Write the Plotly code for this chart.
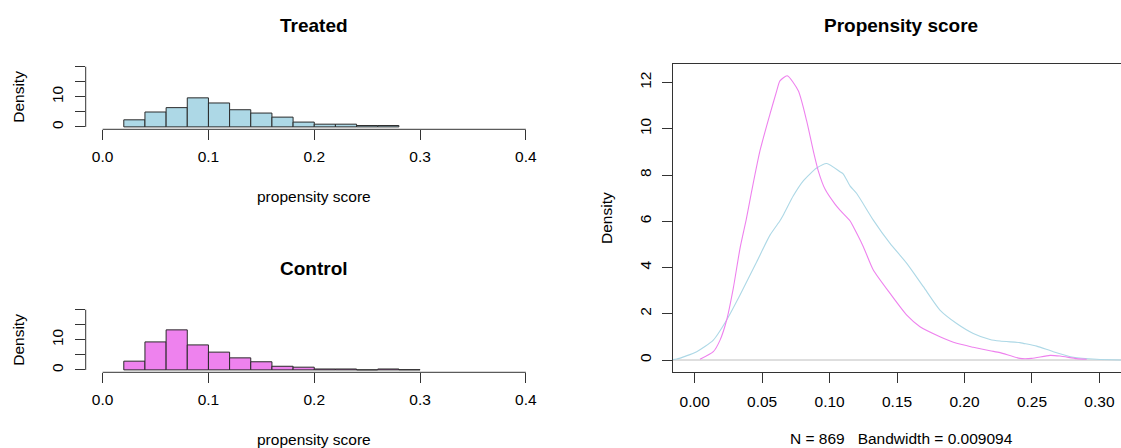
import numpy as np
import plotly.graph_objects as go

# ---------------- data ----------------
bin_edges = [0.02, 0.04, 0.06, 0.08, 0.10, 0.12, 0.14, 0.16, 0.18, 0.20,
             0.22, 0.24, 0.26, 0.28, 0.30]
treated_density = [2.35, 4.95, 6.4, 9.65, 7.95, 5.7, 4.6, 3.25, 1.6, 0.9,
                   0.9, 0.45, 0.45, None]
control_density = [2.9, 9.3, 13.3, 8.3, 5.9, 4.0, 2.7, 1.2, 0.9, 0.3,
                    0.3, 0.0, 0.3, 0.06]

treated_kde_x = [-0.0163, -0.0133, 0.0015, 0.0138, 0.0237, 0.0336, 0.0460,
                 0.0558, 0.0632, 0.0657, 0.0731, 0.0805, 0.0904, 0.0979,
                 0.1077, 0.1102, 0.1151, 0.1201, 0.1324, 0.1448, 0.1572,
                 0.1695, 0.1818, 0.1942, 0.2065, 0.2189, 0.2263, 0.2411,
                 0.2436, 0.2535, 0.2658, 0.2807, 0.2980, 0.3160]
treated_kde_y = [0.02, 0.04, 0.36, 0.86, 1.73, 2.81, 4.25,
                 5.40, 6.02, 6.27, 7.10, 7.75, 8.30, 8.50,
                 8.14, 8.04, 7.53, 7.20, 6.05, 5.04, 4.18,
                 3.17, 2.16, 1.58, 1.15, 0.89, 0.82, 0.75,
                 0.72, 0.60, 0.36, 0.12, 0.03, 0.0]

control_kde_x = [0.0039, 0.0138, 0.0188, 0.0237, 0.0286, 0.0336, 0.0383,
                 0.0423, 0.0484, 0.0558, 0.0608, 0.0632, 0.0686, 0.0768,
                 0.0830, 0.0879, 0.0916, 0.0966, 0.1040, 0.1077, 0.1151,
                 0.1176, 0.1250, 0.1324, 0.1448, 0.1572, 0.1670, 0.1818,
                 0.1942, 0.2065, 0.2189, 0.2263, 0.2411, 0.2498, 0.2634,
                 0.2708, 0.2832, 0.2906]
control_kde_y = [0.03, 0.36, 0.86, 1.73, 3.10, 4.83, 6.10,
                 7.32, 9.05, 10.63, 11.64, 12.07, 12.29, 11.64,
                 10.34, 9.05, 8.18, 7.39, 6.74, 6.48, 6.02,
                 5.76, 4.90, 3.89, 2.88, 1.94, 1.44, 1.01,
                 0.72, 0.55, 0.40, 0.32, 0.07, 0.07, 0.20,
                 0.17, 0.06, 0.03]

hist_xticks = [0.0, 0.1, 0.2, 0.3, 0.4]
hist_yticks = [0, 5, 10, 15, 20]
hist_yticktext = ["0", "", "10", "", ""]
dens_xticks = [0.0, 0.05, 0.10, 0.15, 0.20, 0.25, 0.30]
dens_yticks = [0, 2, 4, 6, 8, 10, 12]

density_xlab = "N = 869\u00a0\u00a0\u00a0Bandwidth = 0.009094"

# ---------------- layout helpers ----------------
W, H = 1121, 448
FONT = "Liberation Sans, Arial, sans-serif"
AX = "#333333"
TXT = "#000000"


def fx(px):
    return px / W


def fy(py):
    return 1 - py / H


centers = (np.array(bin_edges[:-1]) + np.array(bin_edges[1:])) / 2
bw = bin_edges[1] - bin_edges[0]

fig = go.Figure()
fig.add_trace(go.Bar(x=centers, y=treated_density, width=bw,
                     marker=dict(color="#ADD8E6", line=dict(color="#2a2a2a", width=1)),
                     xaxis="x", yaxis="y"))
fig.add_trace(go.Bar(x=centers, y=control_density, width=bw,
                     marker=dict(color="#EE82EE", line=dict(color="#2a2a2a", width=1)),
                     xaxis="x2", yaxis="y2"))
fig.add_trace(go.Scatter(x=treated_kde_x, y=treated_kde_y, mode="lines",
                         line=dict(color="#ADD8E6", width=1.1, shape="spline", smoothing=0.6),
                         xaxis="x3", yaxis="y3"))
fig.add_trace(go.Scatter(x=control_kde_x, y=control_kde_y, mode="lines",
                         line=dict(color="#EE82EE", width=1.1, shape="spline", smoothing=0.6),
                         xaxis="x3", yaxis="y3"))

tickfont = dict(family=FONT, size=15.5, color=TXT)

common = dict(showgrid=False, zeroline=False, ticks="outside", ticklen=9.5,
              tickcolor=AX, tickwidth=1, tickfont=tickfont, fixedrange=True)

hx = dict(range=[-0.016, 0.416], tickvals=hist_xticks,
          ticktext=["%.1f" % v for v in hist_xticks], showline=False,
          ticklabelstandoff=4, **common)
hy = dict(range=[-0.8, 20.8], tickvals=hist_yticks, ticktext=hist_yticktext,
          tickangle=-90, showline=False, ticklabelstandoff=6, **common)

fig.update_layout(
    width=W, height=H, autosize=False,
    margin=dict(l=0, r=0, t=0, b=0, pad=0),
    paper_bgcolor="white", plot_bgcolor="white",
    showlegend=False,
    xaxis=dict(domain=[fx(85.7), fx(542.8)], anchor="y", **hx),
    yaxis=dict(domain=[fy(129.3), fy(64.3)], anchor="x", **hy),
    xaxis2=dict(domain=[fx(85.7), fx(542.8)], anchor="y2", **hx),
    yaxis2=dict(domain=[fy(372.3), fy(307.3)], anchor="x2", **hy),
    xaxis3=dict(domain=[fx(672.7), 1.0], anchor="y3",
                range=[-0.0163, 0.3160], tickvals=dens_xticks,
                ticktext=["%.2f" % v for v in dens_xticks],
                showline=True, linecolor=AX, linewidth=1, mirror=True,
                ticklabelstandoff=6, **common),
    yaxis3=dict(domain=[fy(372.3), fy(64)], anchor="x3",
                range=[-0.532, 12.80], tickvals=dens_yticks,
                ticktext=[str(v) for v in dens_yticks], tickangle=-90,
                showline=True, linecolor=AX, linewidth=1, mirror=False,
                ticklabelstandoff=5, **common),
)

shapes = []
for xa, ya in (("x", "y"), ("x2", "y2")):
    shapes.append(dict(type="line", xref=xa, yref=ya + " domain",
                       x0=hist_xticks[0], x1=hist_xticks[-1], y0=0, y1=0,
                       line=dict(color=AX, width=1)))
    shapes.append(dict(type="line", xref=xa + " domain", yref=ya,
                       x0=0, x1=0, y0=hist_yticks[0], y1=hist_yticks[-1],
                       line=dict(color=AX, width=1)))
shapes.append(dict(type="line", xref="x3 domain", yref="y3", x0=0, x1=1,
                   y0=0, y1=0, line=dict(color="#BEBEBE", width=1), layer="below"))
fig.update_layout(shapes=shapes)

lab = dict(family=FONT, size=15.5, color=TXT)
ttl = dict(family=FONT, size=19, color=TXT)
ann = []


def add(text, px, py, font, angle=0, bold=False):
    ann.append(dict(text=("<b>%s</b>" % text) if bold else text,
                    x=fx(px), y=fy(py), xref="paper", yref="paper",
                    xanchor="center", yanchor="middle", showarrow=False,
                    font=font, textangle=angle))


add("Treated", 314.3, 25.5, ttl, bold=True)
add("Control", 314.3, 268.5, ttl, bold=True)
add("Propensity score", 901, 25.5, ttl, bold=True)
add("Density", 19, 96.8, lab, angle=-90)
add("Density", 19, 339.8, lab, angle=-90)
add("Density", 607, 218, lab, angle=-90)
add("propensity score", 314.3, 197, lab)
add("propensity score", 314.3, 439, lab)
add(density_xlab, 901, 438, lab)
fig.update_layout(annotations=ann)

fig.write_html("out.html")
